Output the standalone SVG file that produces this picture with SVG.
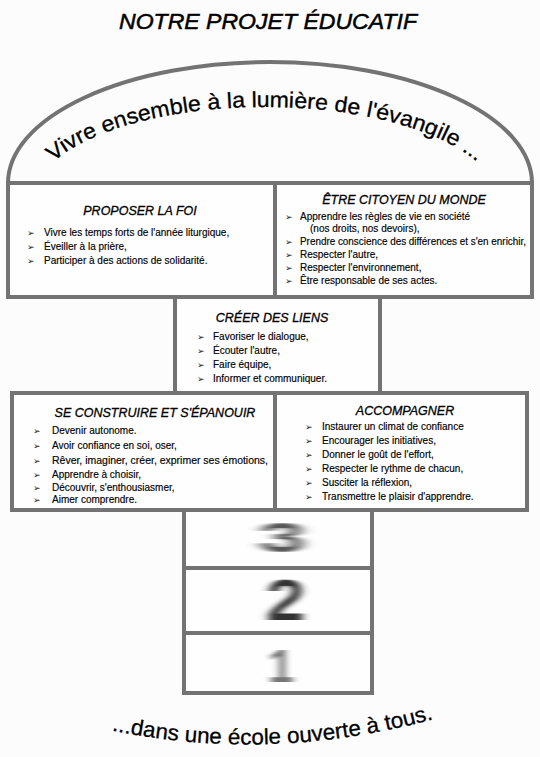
<svg xmlns="http://www.w3.org/2000/svg" width="540" height="757" viewBox="0 0 540 757">
<style>
.bg{fill:#fcfcfc}
.frame{fill:none;stroke:#737373;stroke-width:4}
.box{fill:#fefefe;stroke:#737373;stroke-width:4}
.title{font-family:"Liberation Sans",Arial,sans-serif;font-style:italic;font-size:12.5px;fill:#000;stroke:#000;stroke-width:0.3;text-anchor:middle}
.item{font-family:"Liberation Sans",Arial,sans-serif;font-size:10px;fill:#000;stroke:#000;stroke-width:0.15}
.bul{font-family:"DejaVu Sans",sans-serif;font-size:9px;fill:#222}
.big{font-family:"Liberation Sans",Arial,sans-serif;font-size:22px;fill:#000;stroke:#000;stroke-width:0.3}
.num{font-family:"Liberation Sans",Arial,sans-serif;font-weight:bold;text-anchor:middle}
</style>
<defs>
<filter id="smudge" x="-50%" y="-30%" width="200%" height="160%"><feGaussianBlur stdDeviation="3.5 0.7"/></filter>
<path id="archText" d="M 33,200 A 232,93 0 0 1 497,200"/>
<path id="bottomText" d="M 100,728 Q 270,766 445,716"/>
</defs>
<rect class="bg" x="0" y="0" width="540" height="757"/>
<g id="title">
<text x="268" y="29" font-family="Liberation Sans,Arial,sans-serif" font-style="italic" font-size="22" fill="#000" stroke="#000" stroke-width="0.5" text-anchor="middle" textLength="298" lengthAdjust="spacingAndGlyphs">NOTRE PROJET ÉDUCATIF</text>
</g>
<g id="dome">
<path class="frame" d="M 8,298 L 8,183 A 262,121 0 0 1 532,183 L 532,298"/>
<text class="big"><textPath href="#archText" startOffset="50%" text-anchor="middle" textLength="445" lengthAdjust="spacingAndGlyphs">Vivre ensemble à la lumière de l'évangile ...</textPath></text>
</g>
<g id="proposer-la-foi">
<rect class="box" x="8" y="183" width="267" height="114"/>
<text class="title" x="140" y="215">PROPOSER LA FOI</text>
<text class="bul" x="27" y="236">➢</text><text class="item" x="44" y="236">Vivre les temps forts de l'année liturgique,</text>
<text class="bul" x="27" y="250">➢</text><text class="item" x="44" y="250">Éveiller à la prière,</text>
<text class="bul" x="27" y="264">➢</text><text class="item" x="44" y="264">Participer à des actions de solidarité.</text>
</g>
<g id="etre-citoyen">
<rect class="box" x="275" y="183" width="257" height="114"/>
<text class="title" x="404" y="204">ÊTRE CITOYEN DU MONDE</text>
<text class="bul" x="285" y="220">➢</text><text class="item" x="300" y="220">Apprendre les règles de vie en société</text>
<text class="item" x="310" y="232">(nos droits, nos devoirs),</text>
<text class="bul" x="285" y="245">➢</text><text class="item" x="300" y="245" textLength="226" lengthAdjust="spacingAndGlyphs">Prendre conscience des différences et s'en enrichir,</text>
<text class="bul" x="285" y="258">➢</text><text class="item" x="300" y="258">Respecter l'autre,</text>
<text class="bul" x="285" y="271">➢</text><text class="item" x="300" y="271">Respecter l'environnement,</text>
<text class="bul" x="285" y="284">➢</text><text class="item" x="300" y="284">Être responsable de ses actes.</text>
</g>
<g id="creer-des-liens">
<rect class="box" x="175" y="297" width="205" height="96"/>
<text class="title" x="272" y="322">CRÉER DES LIENS</text>
<text class="bul" x="197" y="340">➢</text><text class="item" x="213" y="340">Favoriser le dialogue,</text>
<text class="bul" x="197" y="354">➢</text><text class="item" x="213" y="354">Écouter l'autre,</text>
<text class="bul" x="197" y="368">➢</text><text class="item" x="213" y="368">Faire équipe,</text>
<text class="bul" x="197" y="382">➢</text><text class="item" x="213" y="382">Informer et communiquer.</text>
</g>
<g id="se-construire">
<rect class="box" x="12" y="393" width="263" height="117"/>
<text class="title" x="155" y="417">SE CONSTRUIRE ET S'ÉPANOUIR</text>
<text class="bul" x="33" y="434">➢</text><text class="item" x="52" y="434">Devenir autonome.</text>
<text class="bul" x="33" y="449">➢</text><text class="item" x="52" y="449">Avoir confiance en soi, oser,</text>
<text class="bul" x="33" y="464">➢</text><text class="item" x="52" y="464" textLength="216" lengthAdjust="spacingAndGlyphs">Rêver, imaginer, créer, exprimer ses émotions,</text>
<text class="bul" x="33" y="478">➢</text><text class="item" x="52" y="478">Apprendre à choisir,</text>
<text class="bul" x="33" y="491">➢</text><text class="item" x="52" y="491">Découvrir, s'enthousiasmer,</text>
<text class="bul" x="33" y="503">➢</text><text class="item" x="52" y="503">Aimer comprendre.</text>
</g>
<g id="accompagner">
<rect class="box" x="275" y="393" width="252" height="117"/>
<text class="title" x="405" y="415">ACCOMPAGNER</text>
<text class="bul" x="305" y="430">➢</text><text class="item" x="322" y="430">Instaurer un climat de confiance</text>
<text class="bul" x="305" y="444">➢</text><text class="item" x="322" y="444">Encourager les initiatives,</text>
<text class="bul" x="305" y="458">➢</text><text class="item" x="322" y="458">Donner le goût de l'effort,</text>
<text class="bul" x="305" y="472">➢</text><text class="item" x="322" y="472">Respecter le rythme de chacun,</text>
<text class="bul" x="305" y="486">➢</text><text class="item" x="322" y="486">Susciter la réflexion,</text>
<text class="bul" x="305" y="500">➢</text><text class="item" x="322" y="500">Transmettre le plaisir d'apprendre.</text>
</g>
<g id="case-3">
<rect class="box" x="184" y="510" width="188" height="58"/>
<text class="num" x="141" y="552" font-size="42" fill="#555" transform="scale(2,1)" filter="url(#smudge)">3</text>
</g>
<g id="case-2">
<rect class="box" x="184" y="568" width="188" height="65"/>
<text class="num" x="238" y="620" font-size="58" fill="#333" transform="scale(1.2,1)" filter="url(#smudge)">2</text>
</g>
<g id="case-1">
<rect class="box" x="184" y="633" width="188" height="60"/>
<text class="num" x="281" y="682" font-size="46" fill="#777" filter="url(#smudge)">1</text>
</g>
<g id="footer">
<text class="big" font-size="21"><textPath href="#bottomText" startOffset="50%" text-anchor="middle" textLength="325" lengthAdjust="spacingAndGlyphs">...dans une école ouverte à tous.</textPath></text>
</g>
</svg>
